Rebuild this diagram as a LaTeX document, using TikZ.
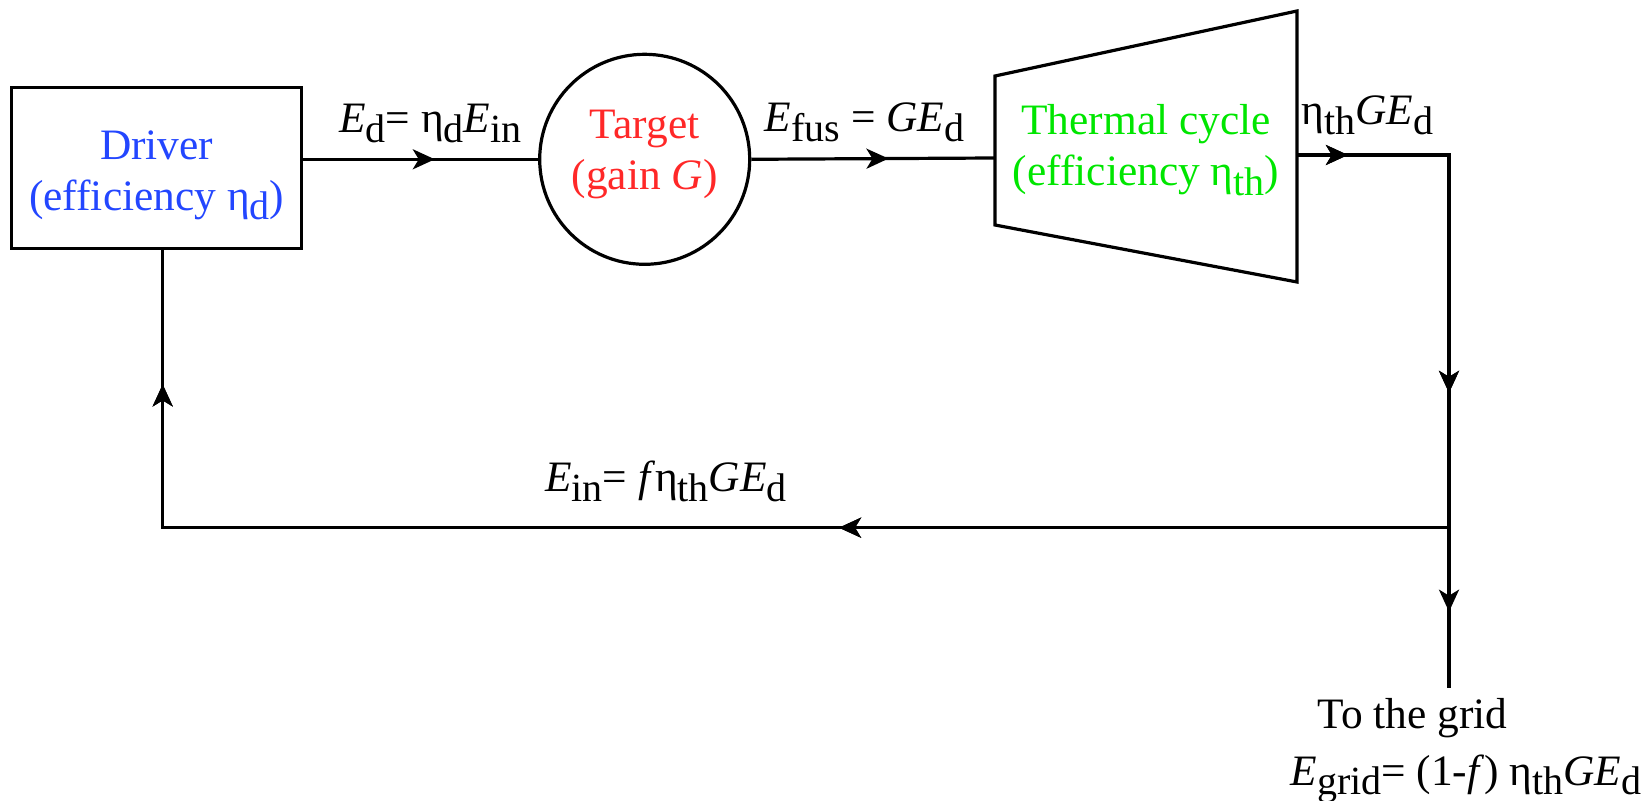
\documentclass[tikz,border=0pt]{standalone}
\usepackage{fontspec}
\setmainfont{Liberation Serif}
\usetikzlibrary{arrows.meta,decorations.markings}

\definecolor{drvblue}{RGB}{35,70,255}
\definecolor{tgtred}{RGB}{255,40,40}
\definecolor{cycgreen}{RGB}{0,230,0}

% large, deep subscripts as in the original figure
\newcommand{\lo}[1]{\raisebox{-4.7pt}{\fontsize{20}{20}\selectfont #1}}

\tikzset{
  block/.style={draw, line width=1.6pt, align=center},
  wire/.style={line width=1.6pt},
  flow/.style={postaction={decorate},
    decoration={markings, mark=at position #1 with
      {\arrow{Stealth[length=11pt,width=10pt,inset=3pt]}}}},
  lbl/.style={anchor=base, inner sep=0pt}
}

\begin{document}
\begin{tikzpicture}[x=0.5pt, y=-0.5pt, font=\fontsize{21.7}{25.5}\selectfont]
  \useasboundingbox (0,0) rectangle (1644,801);

  % --- blocks ---
  \node[block, minimum width=145pt, minimum height=80.5pt, text=drvblue]
    (driver) at (156.7,167.8) {\rule{0pt}{22pt}Driver\\(efficiency η\lo{d})};
  \node[block, circle, minimum size=105pt, inner sep=0pt, text=tgtred]
    (target) at (644.7,159.3) {Target\\(gain \textit{G})\rule[-10pt]{0pt}{10pt}};

  % --- thermal cycle (trapezoid) ---
  \draw[wire] (995,76) -- (1297,11) -- (1297,282) -- (995,225) -- cycle;
  \node[align=center, text=cycgreen] (cycle) at (1146,150)
    {Thermal cycle\\(efficiency η\lo{th})};
  \coordinate (cin)  at (995,158);
  \coordinate (cout) at (1297,155);

  % --- routing points ---
  \coordinate (corner) at (1449,155);
  \coordinate (junc)   at (1449,527.7);
  \coordinate (fbend)  at (162.7,527.7);
  \coordinate (gridend) at (1449,688);

  % --- connectors ---
  \draw[wire, flow=0.56] (driver.east |- target.west) -- (target.west);
  \draw[wire, flow=0.563] (target.east) -- (cin);
  \draw[wire, flow=0.097, flow=0.743] (cout) -- (corner) -- (junc);
  \draw[wire, flow=0.39, flow=0.914] (junc) -- (fbend) -- (fbend |- driver.south);
  \draw[wire, flow=0.524] (junc) -- (gridend);

  % --- labels ---
  \node[lbl] (ed)   at (430.5,133)   {\textit{E}\lo{d}= η\lo{d}\textit{E}\lo{in}};
  \node[lbl] (efus) at (864.5,131.7) {\textit{E}\lo{fus} = \textit{GE}\lo{d}};
  \node[lbl] (eth)  at (1367.5,125)  {η\lo{th}\textit{GE}\lo{d}};
  \node[lbl] (ein)  at (666,491.7)   {\textit{E}\lo{in}= \textit{f}η\lo{th}\textit{GE}\lo{d}};
  \node[lbl] (grid) at (1412.5,728)  {To the grid};
  \node[lbl] (egrid) at (1466,785)   {\textit{E}\lo{grid}= (1-\textit{f}) η\lo{th}\textit{GE}\lo{d}};
\end{tikzpicture}
\end{document}
